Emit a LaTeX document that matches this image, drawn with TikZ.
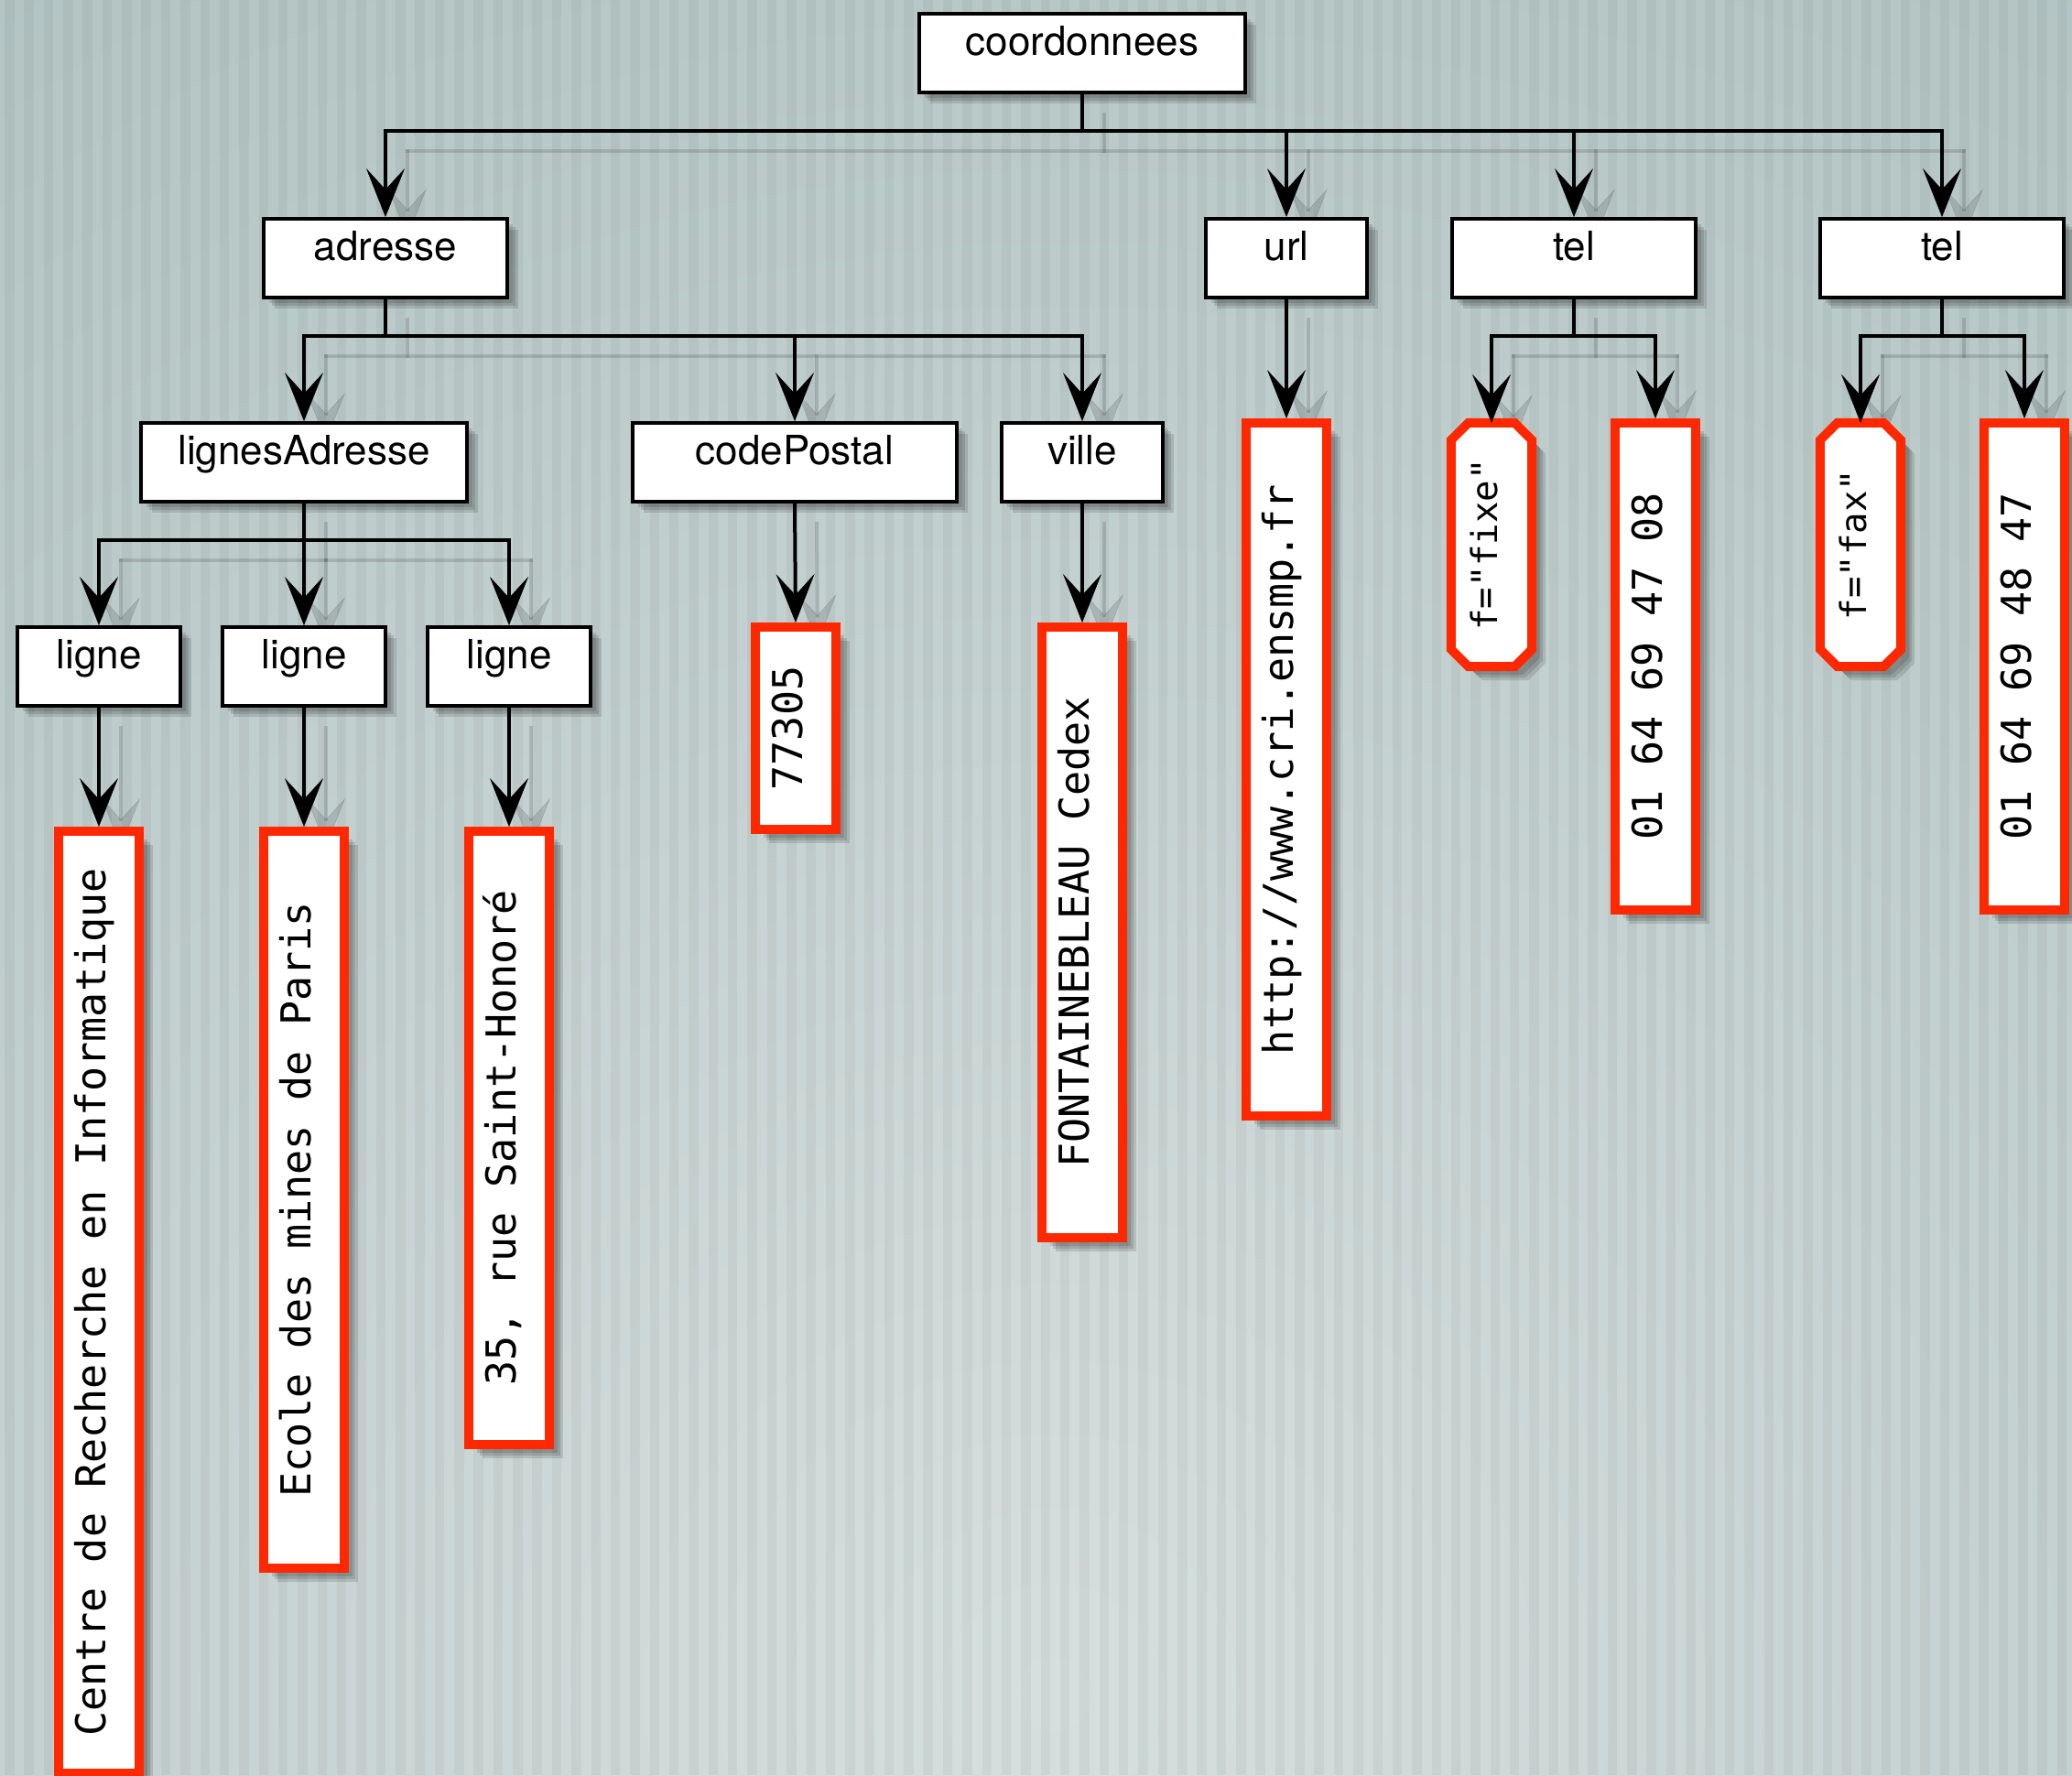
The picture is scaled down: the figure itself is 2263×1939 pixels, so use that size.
\documentclass[tikz,border=0pt]{standalone}
\usepackage{fontspec}
\newfontfamily\heros{TeX Gyre Heros}
\newfontfamily\mono{DejaVu Sans Mono}
\usetikzlibrary{arrows.meta,backgrounds,calc,shadows}
\definecolor{bgbase}{RGB}{172,191,190}
\definecolor{bglight}{RGB}{214,223,222}
\definecolor{redb}{RGB}{255,40,0}
\tikzset{
  shadowA/.style={general shadow={fill=black,opacity=0.12,shadow xshift=#1pt,shadow yshift=-#1pt}},
  blackbox/.style={draw=black,line width=4pt,fill=white,inner xsep=0pt,inner ysep=0pt,
    text height=45pt,text depth=41pt,font=\heros\fontsize{44}{50}\selectfont,
    shadowA=6,shadowA=9,shadowA=12},
  redbox/.style={draw=redb,line width=10pt,fill=white,inner sep=0pt,minimum width=88pt,
    shadowA=9,shadowA=12,shadowA=15},
  octnode/.style={draw=none,inner sep=0pt,minimum width=88pt},
  redline/.style={draw=redb,line width=10pt,line join=miter,fill=white},
  monotext/.style={rotate=90,font=\mono\fontsize{45}{50}\selectfont,inner sep=0pt,
    text height=30pt,text depth=16pt,anchor=center},
  attrtext/.style={rotate=90,font=\mono\fontsize{39}{44}\selectfont,inner sep=0pt,
    text height=27pt,text depth=14pt,anchor=center},
  conn/.style={line width=4pt,line cap=rect},
  arr/.style={-{Stealth[length=53pt,width=42pt,inset=23pt,line width=0.5pt]}},
  realc/.style={draw=black},
  ghostc/.style={draw=black,fill=black,opacity=0.13},
}
\newcommand\octpath[1]{($(#1.north west)+(19,0)$) -- ($(#1.north east)+(-19,0)$) -- ($(#1.north east)+(0,19)$) -- ($(#1.south east)+(0,-19)$) -- ($(#1.south east)+(-19,0)$) -- ($(#1.south west)+(19,0)$) -- ($(#1.south west)+(0,-19)$) -- ($(#1.north west)+(0,19)$) -- cycle}
\newcommand\allconns[1]{%
  \draw[conn,#1] (root.south) -- (b0);
  \draw[conn,#1] (adresse.north |- b0) -- (tel2.north |- b0);
  \foreach \n in {adresse,url,tel1,tel2} {\draw[conn,arr,#1] (\n.north |- b0) -- (\n.north);}
  \draw[conn,#1] (adresse.south) -- (b1);
  \draw[conn,#1] (lignes.north |- b1) -- (ville.north |- b1);
  \foreach \n in {lignes,codep,ville} {\draw[conn,arr,#1] (\n.north |- b1) -- (\n.north);}
  \draw[conn,#1] (tel1.south) -- (b2);
  \draw[conn,#1] (fixe.north |- b2) -- (n1.north |- b2);
  \foreach \n in {fixe,n1} {\draw[conn,arr,#1] (\n.north |- b2) -- (\n.north);}
  \draw[conn,#1] (tel2.south) -- (b3);
  \draw[conn,#1] (fax.north |- b3) -- (n2.north |- b3);
  \foreach \n in {fax,n2} {\draw[conn,arr,#1] (\n.north |- b3) -- (\n.north);}
  \draw[conn,#1] (lignes.south) -- (b4);
  \draw[conn,#1] (l1.north |- b4) -- (l3.north |- b4);
  \foreach \n in {l1,l2,l3} {\draw[conn,arr,#1] (\n.north |- b4) -- (\n.north);}
  \draw[conn,arr,#1] (url.south) -- (urlv.north);
  \draw[conn,arr,#1] (codep.south) -- (cp.north);
  \draw[conn,arr,#1] (ville.south) -- (villev.north);
  \draw[conn,arr,#1] (l1.south) -- (c1.north);
  \draw[conn,arr,#1] (l2.south) -- (c2.north);
  \draw[conn,arr,#1] (l3.south) -- (c3.north);
}
\begin{document}
\begin{tikzpicture}[x=1pt,y=-1pt]
\useasboundingbox (0,0) rectangle (2263,1939);

% element boxes
\node[blackbox,minimum width=356pt] (root) at (1182,58) {coordonnees};
\node[blackbox,minimum width=266pt] (adresse) at (421,282) {adresse};
\node[blackbox,minimum width=176pt] (url) at (1405,282) {url};
\node[blackbox,minimum width=266pt] (tel1) at (1719,282) {tel};
\node[blackbox,minimum width=266pt] (tel2) at (2121,282) {tel};
\node[blackbox,minimum width=356pt] (lignes) at (332,505) {lignesAdresse};
\node[blackbox,minimum width=354pt] (codep) at (868,505) {codePostal};
\node[blackbox,minimum width=176pt] (ville) at (1182,505) {ville};
\node[blackbox,minimum width=178pt] (l1) at (108,728) {ligne};
\node[blackbox,minimum width=178pt] (l2) at (332,728) {ligne};
\node[blackbox,minimum width=178pt] (l3) at (556,728) {ligne};

% value boxes
\node[redbox,minimum height=757pt] (urlv) at (1405,840.5) {};
\node[redbox,minimum height=532pt] (n1) at (1808,728) {};
\node[redbox,minimum height=532pt] (n2) at (2211,728) {};
\node[redbox,minimum height=221pt] (cp) at (869,795.5) {};
\node[redbox,minimum height=667pt] (villev) at (1182,1018.5) {};
\node[redbox,minimum height=1029pt] (c1) at (108,1422.5) {};
\node[redbox,minimum height=805pt] (c2) at (332,1310.5) {};
\node[redbox,minimum height=670pt] (c3) at (556,1243) {};

% attribute octagons
\node[octnode,minimum height=266pt] (fixe) at (1629,595) {};
\node[octnode,minimum height=266pt] (fax) at (2032,595) {};
\foreach \o in {fixe,fax} {
  \foreach \d in {9,12,15} {\fill[black,opacity=0.12,transform canvas={xshift=\d pt,yshift=-\d pt}] \octpath{\o};}
  \path[redline] \octpath{\o};
}

% texts of values
\node[monotext] (urlvt) at (urlv) {http://www.cri.ensmp.fr};
\node[monotext] (n1t) at (n1) {01 64 69 47 08};
\node[monotext] (n2t) at (n2) {01 64 69 48 47};
\node[monotext] (cpt) at (cp) {77305};
\node[monotext] (villevt) at (villev) {FONTAINEBLEAU Cedex};
\node[monotext] (c1t) at (c1) {Centre de Recherche en Informatique};
\node[monotext] (c2t) at (c2) {Ecole des mines de Paris};
\node[monotext] (c3t) at (c3) {35, rue Saint-Honoré};
\node[attrtext] (fixet) at (fixe) {f="fixe"};
\node[attrtext] (faxt) at (fax) {f="fax"};

% bus points
\coordinate (b0) at (1182,143);
\coordinate (b1) at (421,367);
\coordinate (b2) at (1719,367);
\coordinate (b3) at (2121,367);
\coordinate (b4) at (332,590);

\begin{pgfonlayer}{background}
  \fill[bgbase] (0,0) rectangle (2263,1939);
  \begin{scope}
    \clip (0,0) rectangle (2263,1939);
    \shade[inner color=bglight,outer color=bgbase] (1150,1850) circle (2600);
    \foreach \i in {0,...,106} {\fill[black,opacity=0.04] (\i*21.35+5,0) rectangle ++(10.5,1939);}
  \end{scope}
  \begin{scope}[transform canvas={xshift=24pt,yshift=-22pt}]
    \allconns{ghostc}
  \end{scope}
\end{pgfonlayer}

\allconns{realc}
\end{tikzpicture}
\end{document}
